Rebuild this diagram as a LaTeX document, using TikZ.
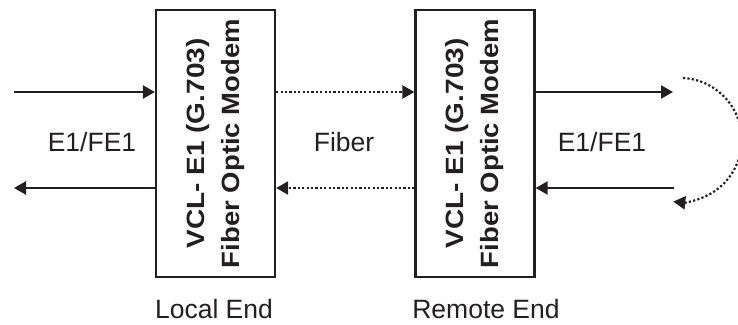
\documentclass[tikz,border=0pt]{standalone}
\usepackage{fontspec}
\setmainfont{Liberation Sans}
\usetikzlibrary{arrows.meta}
\definecolor{ink}{RGB}{35,31,32}
\begin{document}
\begin{tikzpicture}[x=1pt,y=-1pt,
  modem/.style={draw=ink,line width=2.2pt,minimum width=119pt,minimum height=267pt,inner sep=0pt},
  modemtext/.style={rotate=90,align=center,text=ink,font=\bfseries\fontsize{25}{35}\selectfont},
  lbl/.style={anchor=base,text=ink,font=\fontsize{26.5}{30}\selectfont,inner sep=0pt},
  sig/.style={draw=ink,line width=2.2pt,-{Triangle[length=12pt,width=13pt]}},
  fib/.style={sig,dash pattern=on 2.2pt off 2.2pt}]
\useasboundingbox (0,0) rectangle (738,324);
\node[modem] (b1) at (215.5,143.5) {};
\node[modem] (b2) at (475,143.5) {};
\node[modemtext] (t1) at (b1.center) {\scalebox{1.12}[1]{VCL- E1 (G.703)}\\\scalebox{1.1}[1]{Fiber Optic Modem}};
\node[modemtext] (t2) at (b2.center) {\scalebox{1.12}[1]{VCL- E1 (G.703)}\\\scalebox{1.1}[1]{Fiber Optic Modem}};
\coordinate (lin) at (14,92);
\coordinate (lout) at (14,188);
\coordinate (rout) at (673,92);
\coordinate (rin) at (674,188);
\coordinate (loopstart) at (683,78);
\draw[sig] (lin) -- (lin -| b1.west);
\draw[sig] (lout -| b1.west) -- (lout);
\draw[fib] (lin -| b1.east) -- (lin -| b2.west);
\draw[fib] (lout -| b2.west) -- (lout -| b1.east);
\draw[sig] (rout -| b2.east) -- (rout);
\draw[sig] (rin) -- (rin -| b2.east);
\draw[fib] (loopstart) arc[start angle=-87,end angle=96,radius=62];
\node[lbl] (l1) at (92,151) {E1/FE1};
\node[lbl] (l2) at (344,151) {Fiber};
\node[lbl] (l3) at (602,151) {E1/FE1};
\node[lbl] (l4) at (214,318) {Local End};
\node[lbl] (l5) at (486,318) {Remote End};
\end{tikzpicture}
\end{document}
